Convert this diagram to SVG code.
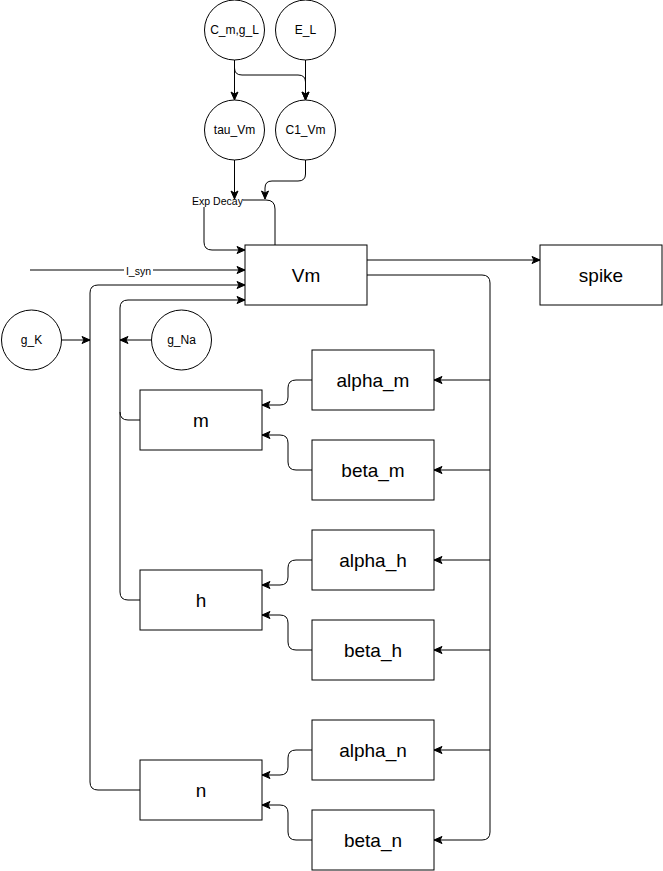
<svg xmlns="http://www.w3.org/2000/svg" width="663" height="871" viewBox="0 0 663 871">
<defs>
<marker id="arr" markerWidth="10" markerHeight="10" refX="9" refY="5" orient="auto" markerUnits="userSpaceOnUse">
<path d="M1,1.5 L9,5 L1,8.5 L3,5 Z" fill="#000" stroke="#000" stroke-width="1"/>
</marker>
<style>
.n{fill:#fff;stroke:#000;stroke-width:1}
.t{font-family:"Liberation Sans",Arial,sans-serif;fill:#000;text-anchor:middle;dominant-baseline:central}
.big{font-size:19px}
.sm{font-size:12px}
.lbl{font-size:10.5px}
.e{fill:none;stroke:#000;stroke-width:1}
.a{marker-end:url(#arr)}
</style>
</defs>
<rect width="663" height="871" fill="#fff"/>
<g id="connectors">
<path class="e a" d="M234.5,60 L234.5,100"/>
<path class="e a" d="M234.5,60 L234.5,68 Q234.5,75 242,75 L298,75 Q305.5,75 305.5,82 L305.5,100"/>
<path class="e a" d="M305.5,60 L305.5,100"/>
<path class="e a" d="M234.5,160 L234.5,199"/>
<path class="e a" d="M305.5,160 L305.5,174 Q305.5,181 298,181 L272,181 Q265,181 265,188 L265,199"/>
<path class="e" d="M243,200 L266,200 Q275,200 275,209 L275,245"/>
<path class="e a" d="M204,207 L204,242 Q204,250 212,250 L245,250"/>
<path class="e a" d="M30,270 L245,270"/>
<path class="e a" d="M140,790 L98,790 Q90,790 90,782 L90,293 Q90,285 98,285 L245,285"/>
<path class="e a" d="M140,600 L128,600 Q120,600 120,592 L120,308 Q120,300 128,300 L245,300"/>
<path class="e" d="M140,420 L128,420 Q120,420 120,412"/>
<path class="e a" d="M62,340 L90,340"/>
<path class="e a" d="M151,340 L120,340"/>
<path class="e a" d="M367,260 L540,260"/>
<path class="e a" d="M367,275 L482,275 Q490,275 490,283 L490,832 Q490,840 482,840 L434,840"/>
<path class="e a" d="M490,380 L434,380"/>
<path class="e a" d="M490,470 L434,470"/>
<path class="e a" d="M490,560 L434,560"/>
<path class="e a" d="M490,650 L434,650"/>
<path class="e a" d="M490,750 L434,750"/>
<path class="e a" d="M312,380 L296,380 Q288,380 288,388 L288,397 Q288,405 280,405 L262,405"/>
<path class="e a" d="M312,470 L296,470 Q288,470 288,462 L288,443 Q288,435 280,435 L262,435"/>
<path class="e a" d="M312,560 L296,560 Q288,560 288,568 L288,577 Q288,585 280,585 L262,585"/>
<path class="e a" d="M312,650 L296,650 Q288,650 288,642 L288,623 Q288,615 280,615 L262,615"/>
<path class="e a" d="M312,750 L296,750 Q288,750 288,758 L288,767 Q288,775 280,775 L262,775"/>
<path class="e a" d="M312,840 L296,840 Q288,840 288,832 L288,813 Q288,805 280,805 L262,805"/>
<rect x="124" y="264" width="29" height="12" fill="#fff"/>
<text class="t lbl" x="138.5" y="270.5">I_syn</text>
<text class="t lbl" x="217.5" y="201">Exp Decay</text>
</g>
<g id="C_m_g_L"><circle class="n" cx="234.5" cy="30" r="30"/><text class="t sm" x="234.5" y="30">C_m,g_L</text></g>
<g id="E_L"><circle class="n" cx="305.5" cy="30" r="30"/><text class="t sm" x="305.5" y="30">E_L</text></g>
<g id="tau_Vm"><circle class="n" cx="234.5" cy="130" r="30"/><text class="t sm" x="234.5" y="130">tau_Vm</text></g>
<g id="C1_Vm"><circle class="n" cx="305.5" cy="130" r="30"/><text class="t sm" x="305.5" y="130">C1_Vm</text></g>
<g id="g_K"><circle class="n" cx="31.5" cy="340" r="30"/><text class="t sm" x="31.5" y="340">g_K</text></g>
<g id="g_Na"><circle class="n" cx="181.5" cy="340" r="30"/><text class="t sm" x="181.5" y="340">g_Na</text></g>
<g id="Vm"><rect class="n" x="245" y="245" width="122" height="60"/><text class="t big" x="306" y="275">Vm</text></g>
<g id="spike"><rect class="n" x="540" y="245" width="122" height="60"/><text class="t big" x="601" y="275">spike</text></g>
<g id="m"><rect class="n" x="140" y="390" width="122" height="60"/><text class="t big" x="201" y="420">m</text></g>
<g id="h"><rect class="n" x="140" y="570" width="122" height="60"/><text class="t big" x="201" y="600">h</text></g>
<g id="n"><rect class="n" x="140" y="760" width="122" height="60"/><text class="t big" x="201" y="790">n</text></g>
<g id="alpha_m"><rect class="n" x="312" y="350" width="122" height="60"/><text class="t big" x="373" y="380">alpha_m</text></g>
<g id="beta_m"><rect class="n" x="312" y="440" width="122" height="60"/><text class="t big" x="373" y="470">beta_m</text></g>
<g id="alpha_h"><rect class="n" x="312" y="530" width="122" height="60"/><text class="t big" x="373" y="560">alpha_h</text></g>
<g id="beta_h"><rect class="n" x="312" y="620" width="122" height="60"/><text class="t big" x="373" y="650">beta_h</text></g>
<g id="alpha_n"><rect class="n" x="312" y="720" width="122" height="60"/><text class="t big" x="373" y="750">alpha_n</text></g>
<g id="beta_n"><rect class="n" x="312" y="810" width="122" height="60"/><text class="t big" x="373" y="840">beta_n</text></g>
</svg>
